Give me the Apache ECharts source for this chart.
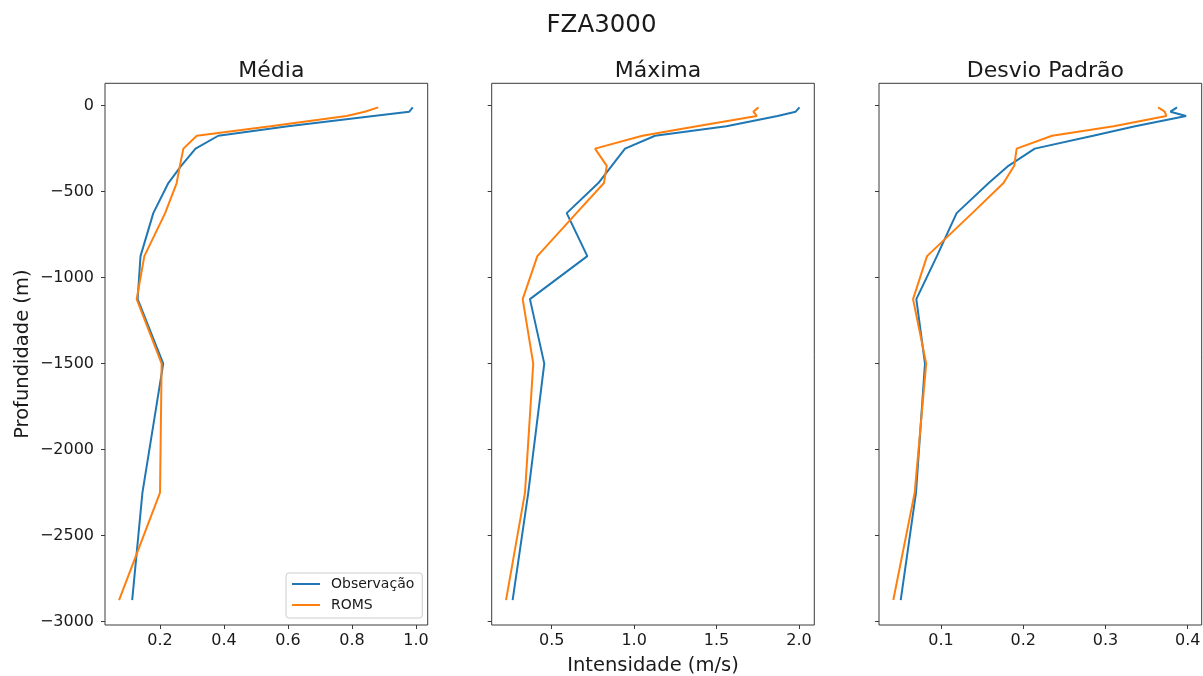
<!DOCTYPE html>
<html>
<head>
<meta charset="utf-8">
<title>FZA3000</title>
<script src="https://cdn.jsdelivr.net/npm/echarts@6/dist/echarts.min.js"></script>
<style>
  html, body { margin: 0; padding: 0; background: #fff; }
  #chart { width: 1203px; height: 676px; }
</style>
</head>
<body>
<div id="chart"></div>
<script>
// Depth levels (m) shared by every profile
const depths = [-10, -35, -60, -120, -175, -250, -350, -450, -625, -875, -1125, -1500, -2250, -2875];

// Média (m/s)
const mediaObs  = [0.990, 0.979, 0.867, 0.600, 0.382, 0.311, 0.266, 0.226, 0.179, 0.139, 0.130, 0.210, 0.145, 0.113];
const mediaRoms = [0.882, 0.840, 0.783, 0.545, 0.315, 0.273, 0.262, 0.252, 0.216, 0.151, 0.127, 0.205, 0.200, 0.072];

// Máxima (m/s)
const maxObs  = [2.003, 1.980, 1.870, 1.560, 1.127, 0.945, 0.864, 0.783, 0.591, 0.716, 0.368, 0.455, 0.358, 0.263];
const maxRoms = [1.754, 1.723, 1.744, 1.380, 1.050, 0.763, 0.834, 0.817, 0.650, 0.413, 0.324, 0.388, 0.338, 0.223];

// Desvio padrão (m/s)
const dpObs  = [0.387, 0.379, 0.398, 0.336, 0.285, 0.214, 0.182, 0.158, 0.119, 0.095, 0.070, 0.0805, 0.0696, 0.051];
const dpRoms = [0.364, 0.372, 0.374, 0.310, 0.235, 0.192, 0.189, 0.176, 0.138, 0.083, 0.066, 0.082, 0.068, 0.042];

// Tick labels
const yTicks      = [0, -500, -1000, -1500, -2000, -2500, -3000];
const xTicksMedia = [0.2, 0.4, 0.6, 0.8, 1.0];
const xTicksMax   = [0.5, 1.0, 1.5, 2.0];
const xTicksDp    = [0.1, 0.2, 0.3, 0.4];

const panelTitles = ['Média', 'Máxima', 'Desvio Padrão'];
const seriesNames = ['Observação', 'ROMS'];
const colors = ['#1f77b4', '#ff7f0e'];

const FONT = 'DejaVu Sans';
const frameColor = '#3a3a3a';

// Fixed panel rectangles; labels and names may sit outside them freely
const grids = [
  { left: 105,   top: 83.3, width: 322.7, height: 541.7 },
  { left: 491.7, top: 83.3, width: 322.6, height: 541.7 },
  { left: 879,   top: 83.3, width: 322.7, height: 541.7 }
].map(g => Object.assign({
  show: true, borderColor: frameColor, borderWidth: 1, backgroundColor: '#fff',
  containLabel: false, outerBoundsMode: 'none'
}, g));

const xRanges = [[0.028, 1.0366], [0.136, 2.093], [0.0246, 0.417]];
const xTickSets = [xTicksMedia, xTicksMax, xTicksDp];

const xAxes = xRanges.map((r, i) => ({
  type: 'value',
  gridIndex: i,
  position: 'bottom',
  min: r[0],
  max: r[1],
  splitLine: { show: false },
  axisLine: { show: false, onZero: false },
  axisTick: { show: true, length: 4, inside: false, customValues: xTickSets[i], lineStyle: { color: frameColor, width: 1 } },
  axisLabel: {
    customValues: xTickSets[i],
    margin: 8,
    fontFamily: FONT, fontSize: 16, color: '#1a1a1a',
    formatter: v => v.toFixed(1)
  },
  name: i === 1 ? 'Intensidade (m/s)' : '',
  nameLocation: 'middle',
  nameGap: 31,
  nameTextStyle: { fontFamily: FONT, fontSize: 19.5, color: '#1a1a1a' }
}));

const yAxes = [0, 1, 2].map(i => ({
  type: 'value',
  gridIndex: i,
  position: 'left',
  min: -3020,
  max: 130,
  splitLine: { show: false },
  axisLine: { show: false, onZero: false },
  axisTick: { show: true, length: 4, inside: false, customValues: yTicks, lineStyle: { color: frameColor, width: 1 } },
  axisLabel: {
    show: i === 0,
    customValues: yTicks,
    margin: 11,
    fontFamily: FONT, fontSize: 16, color: '#1a1a1a',
    formatter: v => (v < 0 ? '\u2212' + Math.abs(v) : String(v))
  },
  name: i === 0 ? 'Profundidade (m)' : '',
  nameLocation: 'middle',
  nameRotate: 90,
  nameGap: 72,
  nameTextStyle: { fontFamily: FONT, fontSize: 19.5, color: '#1a1a1a' }
}));

const profiles = [[mediaObs, mediaRoms], [maxObs, maxRoms], [dpObs, dpRoms]];
const series = [];
profiles.forEach((pair, i) => {
  pair.forEach((vals, k) => {
    series.push({
      name: seriesNames[k],
      type: 'line',
      xAxisIndex: i,
      yAxisIndex: i,
      data: vals.map((v, j) => [v, depths[j]]),
      symbol: 'none',
      smooth: false,
      animation: false,
      lineStyle: { color: colors[k], width: 2 },
      itemStyle: { color: colors[k] },
      z: 2 + k
    });
  });
});

const titles = [{
  text: 'FZA3000',
  left: 'center',
  top: 8,
  textStyle: { fontFamily: FONT, fontSize: 24.5, fontWeight: 'normal', color: '#1a1a1a' }
}].concat(panelTitles.map((t, i) => ({
  text: t,
  left: grids[i].left + grids[i].width / 2,
  textAlign: 'center',
  top: 55,
  textStyle: { fontFamily: FONT, fontSize: 22, fontWeight: 'normal', color: '#1a1a1a' }
})));

const chart = echarts.init(document.getElementById('chart'), null, { renderer: 'canvas' });
chart.setOption({
  backgroundColor: '#fff',
  animation: false,
  title: titles,
  grid: grids,
  xAxis: xAxes,
  yAxis: yAxes,
  legend: {
    data: seriesNames,
    orient: 'vertical',
    left: 286,
    top: 573,
    padding: [4, 8, 6, 6],
    itemGap: 7,
    itemWidth: 28,
    itemHeight: 2,
    icon: 'rect',
    borderColor: '#cccccc',
    borderWidth: 1,
    borderRadius: 3,
    backgroundColor: 'rgba(255,255,255,0.8)',
    textStyle: { fontFamily: FONT, fontSize: 14, color: '#1a1a1a', padding: [0, 0, 0, 6] },
    selectedMode: false
  },
  series: series
});
</script>
</body>
</html>
